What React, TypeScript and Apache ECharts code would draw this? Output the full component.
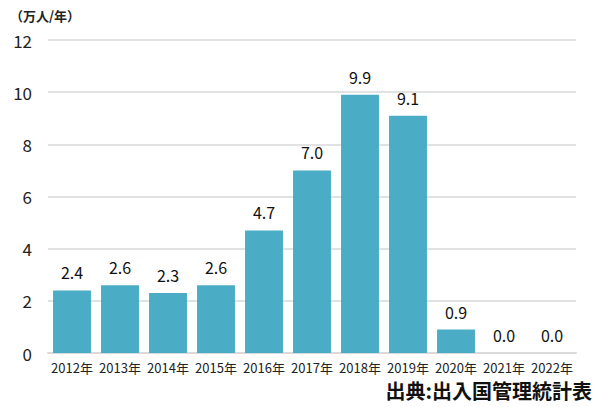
import React, { useEffect, useRef } from "react";
import * as echarts from "echarts";

const categories = ["2012年", "2013年", "2014年", "2015年", "2016年", "2017年", "2018年", "2019年", "2020年", "2021年", "2022年"];
const values = [2.4, 2.6, 2.3, 2.6, 4.7, 7.0, 9.9, 9.1, 0.9, 0.0, 0.0];
const unitLabel = "（万人/年）";
const sourceLabel = "出典:出入国管理統計表";

export default function App() {
  const ref = useRef<HTMLDivElement>(null);
  useEffect(() => {
    const chart = echarts.init(ref.current!, null, { renderer: "svg" });
    chart.setOption({
      animation: false,
      textStyle: { fontFamily: "'Noto Sans CJK JP', 'Noto Sans', sans-serif" },
      grid: { left: 48, right: 21, top: 40, bottom: 54, containLabel: false },
      graphic: [
        { type: "text", left: 10, top: 9, style: { text: unitLabel, fontSize: 13, fontWeight: "bold", fill: "#222", fontFamily: "'Noto Sans CJK JP', sans-serif" } },
        { type: "text", right: 5, top: 380, style: { text: sourceLabel, fontSize: 20, fontWeight: "bold", fill: "#111", fontFamily: "'Noto Sans CJK JP', sans-serif" } },
      ],
      xAxis: {
        type: "category",
        data: categories,
        axisLine: { show: true, lineStyle: { color: "#d9d9d9", width: 2 } },
        axisTick: { show: false },
        axisLabel: { fontSize: 13, color: "#222", margin: 8, interval: 0 },
      },
      yAxis: {
        type: "value",
        min: 0,
        max: 12,
        interval: 2,
        axisLine: { show: false },
        axisTick: { show: false },
        axisLabel: { fontSize: 17, color: "#222", margin: 16 },
        splitLine: { lineStyle: { color: "#d9d9d9", width: 1.5 } },
      },
      series: [
        {
          type: "bar",
          data: values,
          barCategoryGap: "21%",
          itemStyle: { color: "#4BACC6" },
          label: {
            show: true,
            position: "top",
            distance: 10,
            fontSize: 16,
            color: "#111",
            formatter: (p: any) => Number(p.value).toFixed(1),
          },
        },
      ],
    });
    return () => chart.dispose();
  }, []);
  return <div ref={ref} style={{ position: "absolute", left: 0, top: 0, width: 597, height: 407 }} />;
}
